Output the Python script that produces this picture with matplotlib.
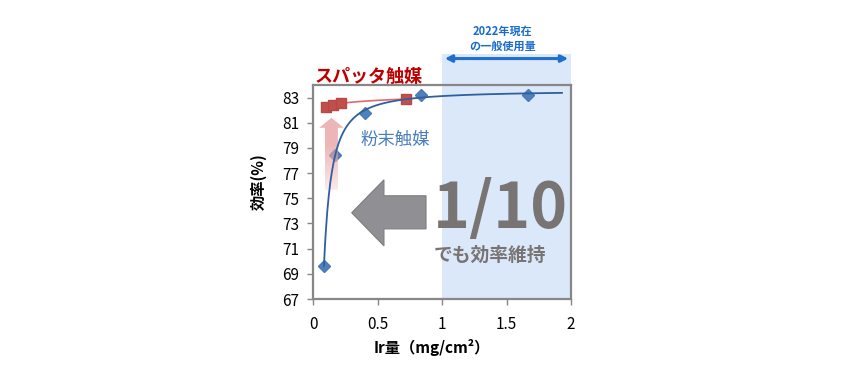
import numpy as np
import matplotlib
matplotlib.use("Agg")
import matplotlib.pyplot as plt
from matplotlib.patches import Polygon, Rectangle, FancyArrowPatch

plt.rcParams['font.family'] = ['Noto Sans CJK JP', 'DejaVu Sans']

# Data
powder_x = [0.085, 0.17, 0.40, 0.84, 1.67]
powder_y = [69.6, 78.4, 81.8, 83.24, 83.24]
sputter_x = [0.10, 0.155, 0.22, 0.72]
sputter_y = [82.29, 82.45, 82.60, 82.86]
x_ticks = [0, 0.5, 1, 1.5, 2]
x_tick_labels = ['0', '0.5', '1', '1.5', '2']
y_ticks = [67, 69, 71, 73, 75, 77, 79, 81, 83]

fig = plt.figure(figsize=(8.6, 3.81), dpi=100)
ax = fig.add_axes([313/860, 82/381, 258/860, 214/381])
ax.set_xlim(0, 2)
ax.set_ylim(67, 84)

# shaded "current usage" region
ax.add_patch(Rectangle((1.0, 67), 1.0, 86.5 - 67, facecolor='#dbe8f9',
                       edgecolor='none', clip_on=False, zorder=0))
ax.add_patch(FancyArrowPatch((1.0, 86.1), (2.0, 86.1), arrowstyle='<|-|>',
                             mutation_scale=10, color='#1f6fd0', lw=2.2,
                             clip_on=False, zorder=3))
ax.text(1.47, 88.25, '2022年現在', ha='center', va='center', fontsize=8,
        fontweight='bold', color='#1a6ccc')
ax.text(1.47, 87.1, 'の一般使用量', ha='center', va='center', fontsize=8,
        fontweight='bold', color='#1a6ccc')

# trendline for powder catalyst: y = a - b * x^-p
px = np.array(powder_x); py = np.array(powder_y)
best = None
for p in np.linspace(0.3, 3.0, 271):
    A = np.column_stack([np.ones_like(px), -px ** (-p)])
    coef, *_ = np.linalg.lstsq(A, py, rcond=None)
    r = np.sum((A @ coef - py) ** 2)
    if best is None or r < best[0]:
        best = (r, p, coef)
_, p_b, (a_b, b_b) = best
xx = np.linspace(px[0], 1.93, 300)
ax.plot(xx, a_b - b_b * xx ** (-p_b), color='#2f5f9e', lw=1.3, zorder=5)

# trendline for sputter catalyst (log)
sx = np.array(sputter_x); sy = np.array(sputter_y)
cs = np.polyfit(np.log(sx), sy, 1)
xs = np.linspace(sx[0], sx[-1], 100)
ax.plot(xs, np.polyval(cs, np.log(xs)), color='#e06a6a', lw=1.2, zorder=4)

ax.plot(powder_x, powder_y, linestyle='none', marker='D', markersize=6.5,
        color='#4f81bd', markeredgecolor='#4a7ab5', zorder=3)
ax.plot(sputter_x, sputter_y, linestyle='none', marker='s', markersize=7,
        color='#c0504d', markeredgecolor='#b94744', zorder=4)

# red upward arrow with gradient
cx = 0.143
red_arrow = Polygon([(cx - 0.05, 75.68), (cx + 0.05, 75.68), (cx + 0.05, 80.6),
                     (cx + 0.095, 80.6), (cx, 81.4), (cx - 0.095, 80.6),
                     (cx - 0.05, 80.6)], closed=True, facecolor='none',
                    edgecolor='none')
ax.add_patch(red_arrow)
grad = np.linspace(0, 1, 100).reshape(-1, 1)
c_top = np.array([0.89, 0.56, 0.56]); c_bot = np.array([0.98, 0.88, 0.88])
img = c_bot + (c_top - c_bot) * np.clip(grad * 1.6, 0, 1)[..., None] * np.ones((1, 2, 1))
im = ax.imshow(img, extent=(cx - 0.1, cx + 0.1, 75.6, 81.45), origin='lower',
               aspect='auto', alpha=0.65, zorder=3.5)
im.set_clip_path(red_arrow)

# gray left arrow
gray_arrow = Polygon([(0.30, 73.85), (0.55, 76.47), (0.55, 75.2), (0.876, 75.2),
                      (0.876, 72.57), (0.55, 72.57), (0.55, 71.22)], closed=True,
                     facecolor='#8f8f94', edgecolor='#7d7d82', lw=0.8, zorder=2)
ax.add_patch(gray_arrow)

ax.text(1.45, 74.1, '1/10', ha='center', va='center', fontsize=45,
        fontweight='bold', color='#787474', zorder=6)
ax.text(1.37, 70.5, 'でも効率維持', ha='center', va='center', fontsize=13.5,
        fontweight='bold', color='#787474', zorder=6)
ax.text(0.64, 79.6, '粉末触媒', ha='center', va='center', fontsize=12.5,
        color='#4a7ebb', zorder=6)
ax.text(0.015, 84.7, 'スパッタ触媒', ha='left', va='center', fontsize=13,
        fontweight='bold', color='#c00000', clip_on=False)

for s in ax.spines.values():
    s.set_color('#878787')
    s.set_linewidth(1.6)
    s.set_zorder(7)
ax.set_xticks(x_ticks)
ax.set_xticklabels(x_tick_labels)
ax.set_yticks(y_ticks)
ax.tick_params(axis='both', which='both', direction='out', length=4,
               width=1, color='#878787', labelsize=11, labelcolor='black')
ax.tick_params(axis='x', pad=8)
ax.tick_params(axis='y', pad=6)
ax.set_xlabel('Ir量（mg/cm²）', fontsize=11, fontweight='bold')
ax.xaxis.set_label_coords(0.46, -0.185)
ax.set_ylabel('効率(%)', fontsize=11, fontweight='bold')
ax.yaxis.set_label_coords(-0.18, 0.55)

fig.savefig('out.png', dpi=100)
